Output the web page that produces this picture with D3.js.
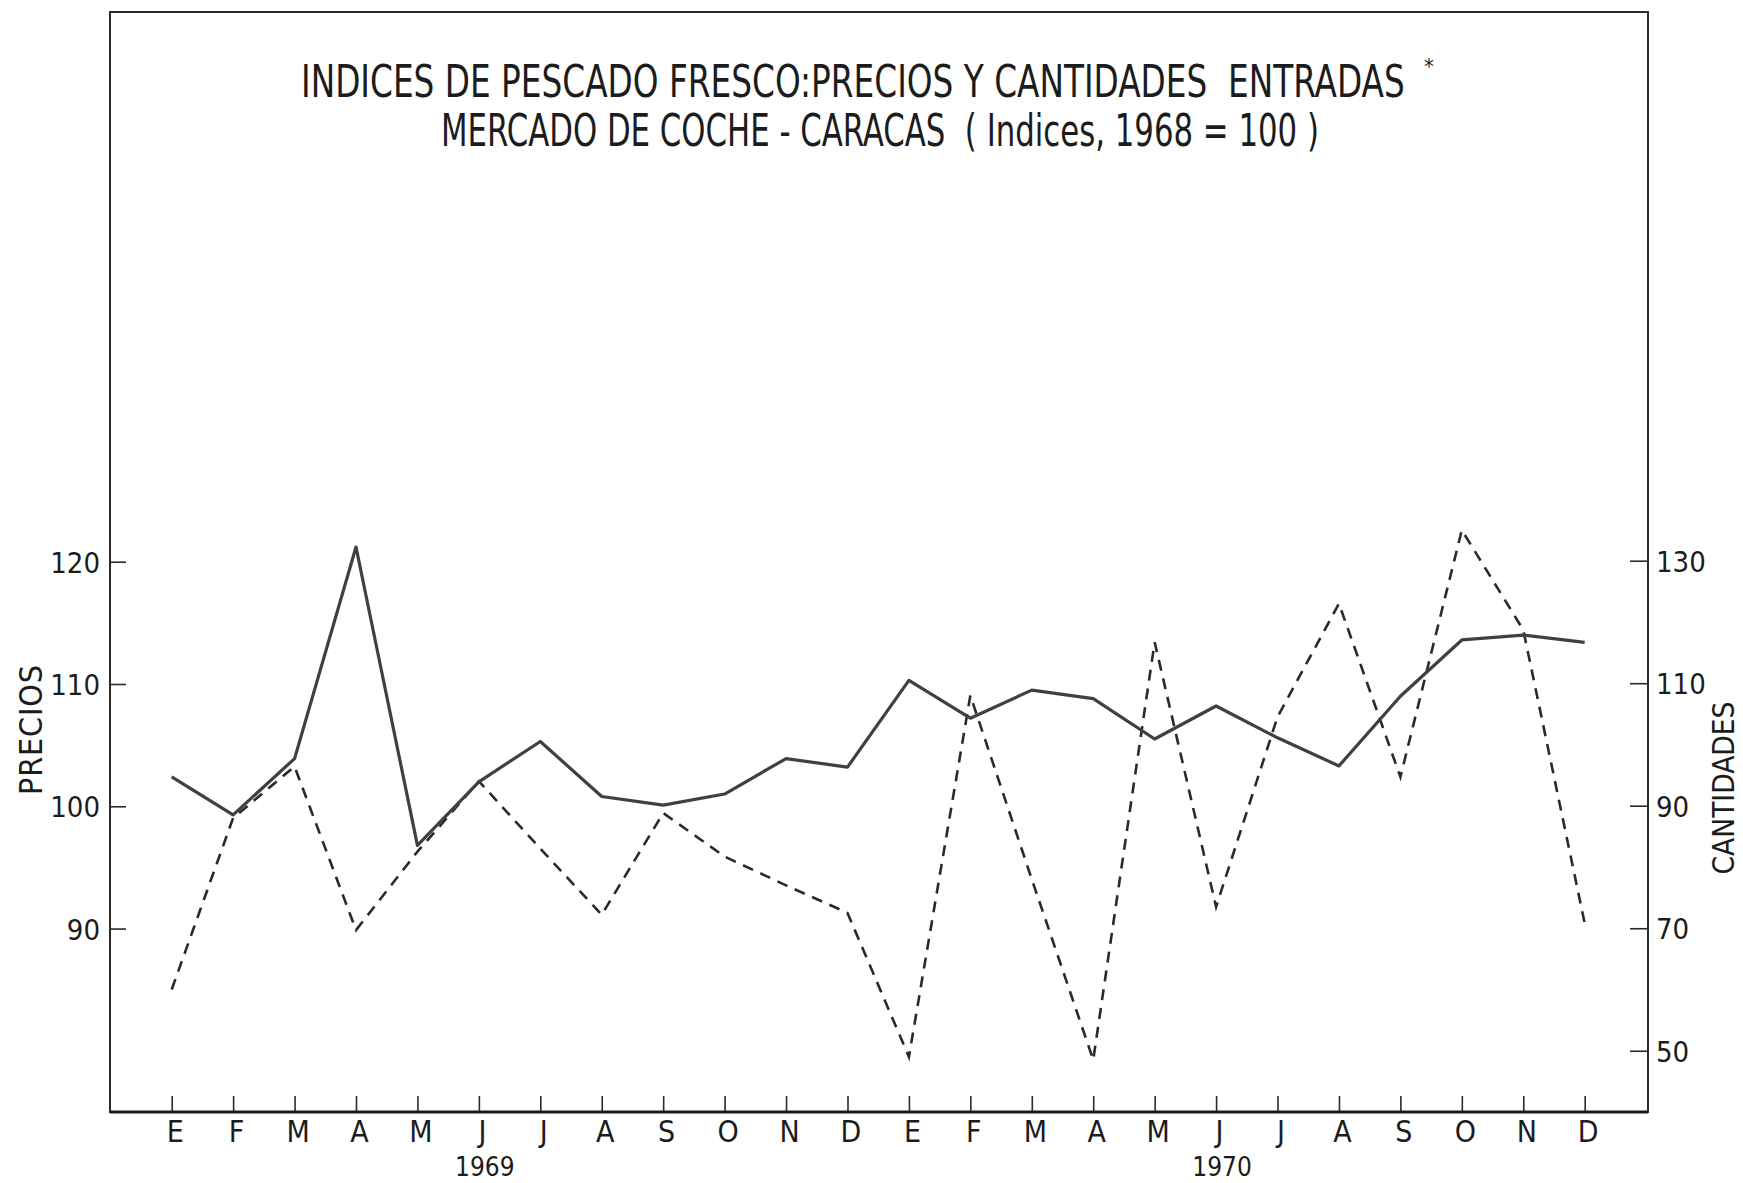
<!DOCTYPE html>
<html>
<head>
<meta charset="utf-8">
<script src="https://cdn.jsdelivr.net/npm/d3@7"></script>
<style>
  body { margin: 0; background: #fff; }
  svg text { font-family: "DejaVu Sans Condensed", "Liberation Sans Narrow", sans-serif; fill: #1c1c1c; }
</style>
</head>
<body>
<svg id="chart" width="1743" height="1183"></svg>
<script>
// ====================================
// Données (indices, 1968 = 100)
// ====================================
const meses = ["E", "F", "M", "A", "M", "J", "J", "A", "S", "O", "N", "D",
               "E", "F", "M", "A", "M", "J", "J", "A", "S", "O", "N", "D"];
const anios = [{ label: "1969", mes: 5 }, { label: "1970", mes: 17 }];

const precios = [102.4, 99.3, 103.9, 121.2, 96.8, 102.0, 105.3, 100.8, 100.1, 101.0, 103.9, 103.2,
                 110.3, 107.2, 109.5, 108.8, 105.5, 108.2, 105.6, 103.3, 109.0, 113.6, 114.0, 113.4];
const cantidades = [60, 88, 96.4, 69.7, 82.5, 94, 83, 72.2, 88.8, 81.7, 77, 72.5,
                    49, 108, 78, 48.5, 116.7, 73.5, 104.5, 123, 94.7, 135, 118.7, 70.8];

const ticksPrecios = [90, 100, 110, 120];
const ticksCantidades = [50, 70, 90, 110, 130];

// ====================================
// Marco y escalas
// ====================================
const frame = { left: 110, right: 1648, top: 12, bottom: 1112 };
const svg = d3.select("#chart");

const x = d3.scaleLinear().domain([0, 23]).range([171.7, 1584.7]);
const yP = d3.scaleLinear().domain([75, 120]).range([frame.bottom, 561.7]);
const yC = d3.scaleLinear().domain([40, 130]).range([frame.bottom, 560.7]);

/**
 * Escribe un texto condensado horizontalmente para que ocupe el ancho dado
 */
function fitText(sel, x0, y0, width, size, txt) {
    const t = sel.append("text")
        .style("font-size", size + "px").style("white-space", "pre")
        .text(txt);
    const w = t.node().getComputedTextLength();
    t.attr("transform", `translate(${x0},${y0}) scale(${width / w},1)`);
    return t;
}

// Título
fitText(svg, 301, 97, 1104, 44, "INDICES DE PESCADO FRESCO:PRECIOS Y CANTIDADES  ENTRADAS");
svg.append("text")
    .attr("x", 1424).attr("y", 74)
    .style("font-size", "22px")
    .text("*");
fitText(svg, 441, 146, 878, 44, "MERCADO DE COCHE - CARACAS  ( Indices, 1968 = 100 )");

// Ejes
const axisLeft = d3.axisLeft(yP).tickValues(ticksPrecios)
    .tickSizeInner(-16).tickSizeOuter(0).tickPadding(10);
const axisRight = d3.axisRight(yC).tickValues(ticksCantidades)
    .tickSizeInner(-18).tickSizeOuter(0).tickPadding(8);
const axisBottom = d3.axisBottom(x).tickValues(d3.range(24))
    .tickFormat(i => meses[i]).tickSizeInner(-16).tickSizeOuter(0).tickPadding(8);

function styleAxis(g) {
    g.select(".domain").remove();
    g.selectAll(".tick line").attr("stroke", "#2a2a2a").attr("stroke-width", 1.6);
    g.selectAll(".tick text").attr("fill", "#1c1c1c")
        .style("font-family", '"DejaVu Sans Condensed", sans-serif');
}

svg.append("g").attr("transform", `translate(${frame.left},0)`)
    .call(axisLeft).call(styleAxis)
    .selectAll(".tick text").style("font-size", "29px").attr("dy", "0.36em");

svg.append("g").attr("transform", `translate(${frame.right},0)`)
    .call(axisRight).call(styleAxis)
    .selectAll(".tick text").style("font-size", "29px").attr("dy", "0.36em");

svg.append("g").attr("transform", `translate(0,${frame.bottom})`)
    .call(axisBottom).call(styleAxis)
    .selectAll(".tick text").style("font-size", "30px").attr("dy", "0.72em").attr("dx", 3);

// Años
svg.append("g").selectAll("text").data(anios).join("text")
    .attr("x", d => x(d.mes) + 6).attr("y", 1176)
    .attr("text-anchor", "middle")
    .style("font-size", "26px")
    .text(d => d.label);

// Títulos de ejes
svg.append("text")
    .attr("transform", "translate(42,730) rotate(-90)")
    .attr("text-anchor", "middle")
    .attr("textLength", 130).attr("lengthAdjust", "spacing")
    .style("font-size", "32px")
    .text("PRECIOS");
svg.append("text")
    .attr("transform", "translate(1734,788) rotate(-90)")
    .attr("text-anchor", "middle")
    .attr("textLength", 173).attr("lengthAdjust", "spacingAndGlyphs")
    .style("font-size", "31px")
    .text("CANTIDADES");

// Marco
svg.append("rect")
    .attr("x", frame.left).attr("y", frame.top)
    .attr("width", frame.right - frame.left).attr("height", frame.bottom - frame.top)
    .attr("fill", "none").attr("stroke", "#2a2a2a").attr("stroke-width", 2);
svg.append("line")
    .attr("x1", frame.left).attr("x2", frame.right)
    .attr("y1", frame.bottom).attr("y2", frame.bottom)
    .attr("stroke", "#1a1a1a").attr("stroke-width", 3);

// Líneas
const linePrecios = d3.line().x((d, i) => x(i)).y(d => yP(d));
const lineCantidades = d3.line().x((d, i) => x(i)).y(d => yC(d));

svg.append("path").datum(cantidades)
    .attr("d", lineCantidades)
    .attr("fill", "none").attr("stroke", "#2a2a2a")
    .attr("stroke-width", 2.6).attr("stroke-dasharray", "11,8");

svg.append("path").datum(precios)
    .attr("d", linePrecios)
    .attr("fill", "none").attr("stroke", "#404040")
    .attr("stroke-width", 3.2).attr("stroke-linejoin", "round");
</script>
</body>
</html>
